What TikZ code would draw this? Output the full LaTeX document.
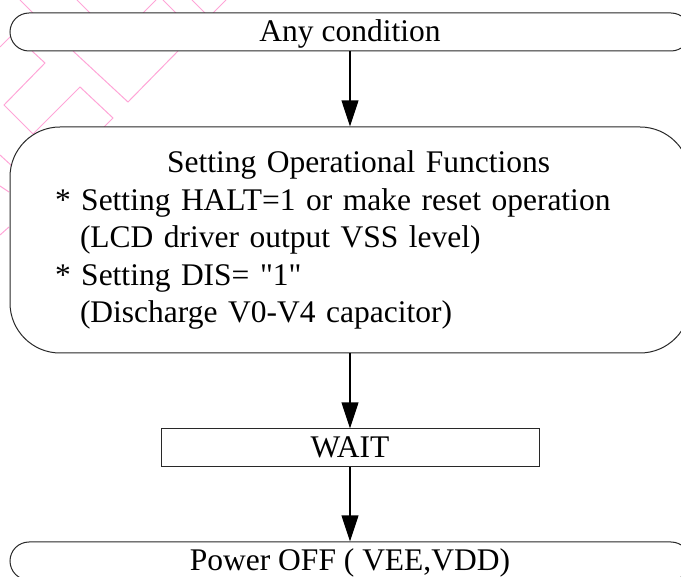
\documentclass[tikz,border=0pt]{standalone}
\usepackage{fontspec}
\setmainfont{Liberation Serif}
\usetikzlibrary{arrows.meta}
\definecolor{wmpink}{RGB}{255,165,215}
\definecolor{edgegray}{RGB}{40,40,40}
\begin{document}
\begin{tikzpicture}[x=0.5pt,y=-0.5pt,
   font=\fontsize{15.75}{18.75}\selectfont,
   termbox/.style={draw=edgegray,fill=white,line width=0.5pt,rounded corners=9.5pt,
      minimum width=340pt,minimum height=19pt,inner sep=0pt,text height=12pt,text depth=2pt},
   setbox/.style={draw=edgegray,fill=white,line width=0.5pt,rounded corners=25pt,
      minimum width=340pt,minimum height=113pt,inner sep=0pt,text width=295pt,align=left},
   waitbox/.style={draw=edgegray,fill=white,line width=0.5pt,
      minimum width=189pt,minimum height=19pt,inner sep=0pt,text height=12pt,text depth=2pt},
   flow/.style={-{Triangle[width=8.4pt,length=13pt]},line width=0.65pt}]
   \useasboundingbox (0,0) rectangle (681,577);
   % Watermark
   \begin{scope}[wmpink,line width=0.5pt]
      \draw (20,0) -- (33,13);
      \draw (77,0) -- (90,13);
      \draw (143,13) -- (156,0);
      \draw (163,0) -- (176,13);
      \draw (192,0) -- (205,13);
      \draw (213,13) -- (226,0);
      \draw (0,47) -- (10,37);
      \draw (32,51) -- (45,63) -- (4,105) -- (33,134) -- (80,87) -- (113,118) -- (104,127);
      \draw (73,51) -- (128,102) -- (178,51);
      \draw (0,155) -- (12,166);
      \draw (0,186) -- (9,192);
      \draw (0,235) -- (9,227);
   \end{scope}
   % Boxes
   \node[termbox] (anyc) at (350,32) {Any condition};
   \node[setbox] (setf) at (350,240) {\hspace*{56pt}Setting Operational Functions\\
      {*} Setting HALT=1 or make reset operation\\
      \hspace*{12.5pt}(LCD driver output VSS level)\\
      {*} Setting DIS= \textquotedbl 1\textquotedbl\\
      \hspace*{12.5pt}(Discharge V0-V4 capacitor)};
   \node[waitbox] (wait) at (350,448) {WAIT};
   \node[termbox] (pwr) at (350,561) {Power OFF ( VEE,VDD)};
   % Flow
   \draw[flow] (anyc) -- (setf);
   \draw[flow] (setf) -- (wait);
   \draw[flow] (wait) -- (pwr);
\end{tikzpicture}
\end{document}
